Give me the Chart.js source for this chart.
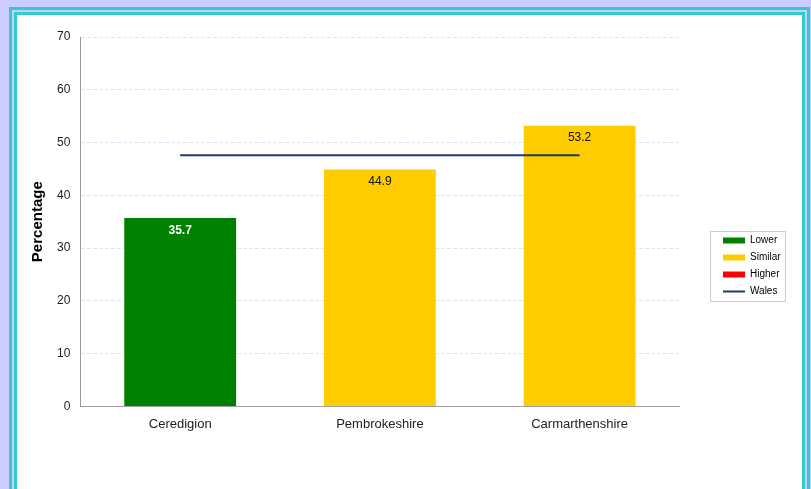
<!DOCTYPE html>
<html>
<head>
<meta charset="utf-8">
<script src="https://cdn.jsdelivr.net/npm/chart.js@4.4.1/dist/chart.umd.min.js"></script>
<style>
  html, body { margin: 0; padding: 0; }
  body { width: 811px; height: 489px; overflow: hidden; background: #ccccff; position: relative; }
  .frame { position: absolute; left: 9px; top: 7px; border: 3px solid #33cccc; padding: 2px; }
  .panel { position: relative; width: 785px; height: 520px; border: 3px solid #33cccc; background: #fff; }
  .chart-box { position: absolute; left: 0; top: 0; width: 785px; height: 474px; }
</style>
</head>
<body>
<div class="frame">
  <div class="panel">
    <div class="chart-box"><canvas id="chart"></canvas></div>
  </div>
</div>
<script>
// Données
const categories = ['Ceredigion', 'Pembrokeshire', 'Carmarthenshire'];
const percentages = [35.7, 44.9, 53.2];
const comparison = ['Lower', 'Similar', 'Similar'];
const walesAverage = [47.6, 47.6, 47.6];
const yTicks = [0, 10, 20, 30, 40, 50, 60, 70];
const legendNames = ['Lower', 'Similar', 'Higher', 'Wales'];

const bandColours = { Lower: '#008000', Similar: '#ffcc00', Higher: '#ff0000' };
const walesColour = '#1f3870';
const family = '"Liberation Sans", Arial, sans-serif';

Chart.defaults.font.family = family;
Chart.defaults.color = '#222';

// Valeurs dans le haut des barres
const barValueLabels = {
    id: 'barValueLabels',
    afterDatasetsDraw(chart) {
        const { ctx } = chart;
        chart.getDatasetMeta(0).data.forEach((bar, i) => {
            const lower = comparison[i] === 'Lower';
            ctx.save();
            ctx.font = (lower ? 'bold ' : '') + '12px ' + family;
            ctx.fillStyle = lower ? '#ffffff' : '#111111';
            ctx.textAlign = 'center';
            ctx.textBaseline = 'middle';
            ctx.fillText(percentages[i].toFixed(1), bar.x, bar.y + 12.5);
            ctx.restore();
        });
    }
};

// Légende : placement + cadre
const legendFrame = {
    id: 'legendFrame',
    afterLayout(chart) {
        const lg = chart.legend;
        const dx = 699 - lg.left;
        const dy = 251 - (lg.top + lg.bottom) / 2;
        lg.left += dx; lg.right += dx;
        lg.top += dy; lg.bottom += dy;
    },
    afterDraw(chart) {
        const boxes = chart.legend.legendHitBoxes;
        if (!boxes || !boxes.length) return;
        const left = Math.min(...boxes.map(b => b.left)) - 13;
        const right = Math.max(...boxes.map(b => b.left + b.width)) + 4;
        const top = Math.min(...boxes.map(b => b.top)) - 5;
        const bottom = Math.max(...boxes.map(b => b.top + b.height)) + 4;
        const { ctx } = chart;
        ctx.save();
        ctx.strokeStyle = '#cccccc';
        ctx.lineWidth = 1;
        ctx.strokeRect(Math.round(left) + 0.5, Math.round(top) + 0.5, Math.round(right - left), Math.round(bottom - top));
        ctx.restore();
    }
};

new Chart(document.getElementById('chart'), {
    data: {
        labels: categories,
        datasets: [
            {
                type: 'bar',
                label: 'Percentage',
                data: percentages,
                backgroundColor: comparison.map(c => bandColours[c]),
                barPercentage: 0.56,
                categoryPercentage: 1,
                order: 1
            },
            {
                type: 'line',
                label: 'Wales',
                data: walesAverage,
                borderColor: walesColour,
                borderWidth: 2,
                pointRadius: 0,
                fill: false,
                order: 0
            }
        ]
    },
    options: {
        responsive: true,
        maintainAspectRatio: false,
        animation: false,
        layout: { padding: { left: 7, top: 22, right: 48, bottom: 47 } },
        plugins: {
            tooltip: { enabled: false },
            legend: {
                position: 'right',
                onClick: null,
                labels: {
                    usePointStyle: true,
                    pointStyleWidth: 22,
                    boxHeight: 6,
                    padding: 7,
                    color: '#111',
                    font: { size: 10 },
                    generateLabels: () => legendNames.map(name => name === 'Wales'
                        ? { text: name, fillStyle: 'rgba(0,0,0,0)', strokeStyle: walesColour, lineWidth: 2, pointStyle: 'line', hidden: false }
                        : { text: name, fillStyle: bandColours[name], strokeStyle: bandColours[name], lineWidth: 0, pointStyle: 'rect', hidden: false })
                }
            }
        },
        scales: {
            x: {
                grid: { display: false, drawTicks: false },
                border: { color: '#a0a0a0', width: 1 },
                ticks: { padding: 10, color: '#222', font: { size: 13 } }
            },
            y: {
                min: yTicks[0],
                max: yTicks[yTicks.length - 1],
                grid: { color: '#e0e4f4', drawTicks: false },
                border: { color: '#999', width: 1, dash: [4, 2] },
                ticks: { stepSize: yTicks[1] - yTicks[0], padding: 10, color: '#222', font: { size: 12 } },
                title: {
                    display: true,
                    text: 'Percentage',
                    color: '#000',
                    padding: { top: 5, bottom: 0 },
                    font: { size: 15, weight: 'bold' }
                }
            }
        }
    },
    plugins: [barValueLabels, legendFrame]
});
</script>
</body>
</html>
